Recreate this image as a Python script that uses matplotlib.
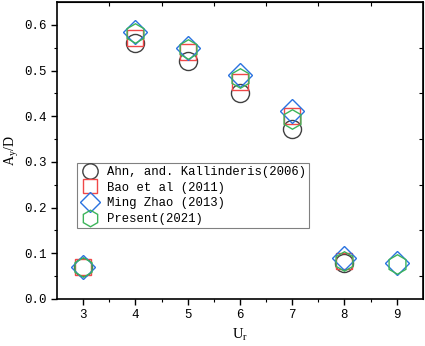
import numpy as np
import matplotlib
matplotlib.use('Agg')
import matplotlib.pyplot as plt

# ---------------- data ----------------
ur = [3, 4, 5, 6, 7, 8, 9]
ahn = [0.070, 0.561, 0.521, 0.452, 0.372, 0.078, np.nan]
bao = [0.070, 0.571, 0.541, 0.476, 0.401, 0.082, np.nan]
zhao = [0.070, 0.585, 0.550, 0.490, 0.412, 0.089, 0.078]
present = [0.070, 0.582, 0.547, 0.483, 0.393, 0.084, 0.076]

labels = ['Ahn, and. Kallinderis(2006)', 'Bao et al (2011)',
          'Ming Zhao (2013)', 'Present(2021)']

# ---------------- plotting ----------------
plt.rcParams['font.family'] = ['Liberation Mono', 'DejaVu Sans']
plt.rcParams['mathtext.fontset'] = 'custom'
plt.rcParams['mathtext.rm'] = 'Liberation Serif'
plt.rcParams['mathtext.it'] = 'Liberation Serif'

fig = plt.figure(figsize=(4.25, 3.46), dpi=100)
ax = fig.add_axes([0.134, 0.136, 0.861, 0.858])

ax.plot(ur, ahn, 'o', ms=13, mfc='none', mec='#404040', mew=1.0, label=labels[0])
ax.plot(ur, bao, 's', ms=12, mfc='none', mec='#f04848', mew=1.0, label=labels[1])
ax.plot(ur, zhao, 'D', ms=12, mfc='none', mec='#2a72e0', mew=1.0, label=labels[2])
ax.plot(ur, present, 'h', ms=14, mfc='none', mec='#3cb45a', mew=1.0, label=labels[3])

ax.set_xlim(2.5, 9.5)
ax.set_ylim(0, 0.65)
ax.set_xticks(np.arange(3, 10, 1))
ax.set_xticks(np.arange(3.5, 9.5, 1), minor=True)
ax.set_yticks(np.arange(0, 0.61, 0.1))
ax.set_yticks(np.arange(0.05, 0.65, 0.1), minor=True)
ax.yaxis.set_major_formatter(matplotlib.ticker.FormatStrFormatter('%.1f'))

ax.tick_params(which='major', direction='out', length=4, width=1.0, labelsize=9)
ax.tick_params(which='minor', direction='out', length=2.5, width=0.8)
for s in ax.spines.values():
    s.set_linewidth(1.2)

# top / right mirrored ticks (inside, at half steps)
top = ax.secondary_xaxis('top')
top.set_xticks(np.arange(3.5, 9.5, 1))
top.tick_params(direction='in', length=3, labeltop=False)
right = ax.secondary_yaxis('right')
right.set_yticks(np.arange(0.05, 0.65, 0.1))
right.tick_params(direction='in', length=3, labelright=False)

ax.set_xlabel('U$_\\mathregular{r}$', fontsize=10.5, family='Liberation Serif')
ax.set_ylabel('A$_\\mathregular{y}$/D', fontsize=10, family='Liberation Serif',
              labelpad=2)

leg = ax.legend(loc='upper left', bbox_to_anchor=(0.055, 0.458), borderaxespad=0,
                fontsize=8.8, fancybox=False, edgecolor='#808080', framealpha=1,
                handletextpad=0.6, labelspacing=0.3, borderpad=0.25,
                handlelength=1.6, markerscale=0.85)
leg.get_frame().set_linewidth(0.8)

fig.savefig('out.png', dpi=100)
